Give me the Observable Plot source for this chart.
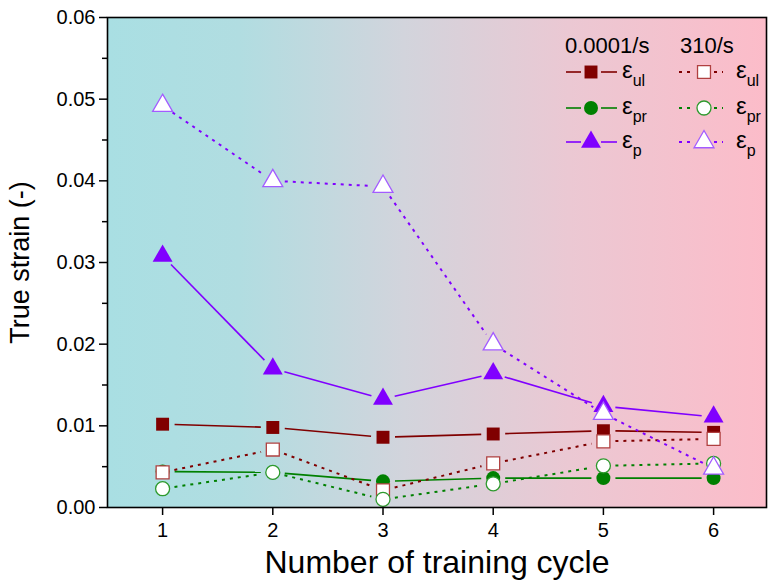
<!DOCTYPE html>
<html>
<head>
<meta charset="utf-8">
<script src="https://cdn.jsdelivr.net/npm/d3@7"></script>
<script src="https://cdn.jsdelivr.net/npm/@observablehq/plot@0.6"></script>
<style>
  html, body { margin: 0; padding: 0; background: #ffffff; }
  #chart svg { display: block; font-family: "Liberation Sans", Arial, sans-serif; }
</style>
</head>
<body>
<div id="chart"></div>
<script>
// ---- Data ----
const cycles = [1, 2, 3, 4, 5, 6];
const ulSlow = [0.0102, 0.0098, 0.0086, 0.0090, 0.0094, 0.0092]; // 0.0001/s, ε_ul
const prSlow = [0.0044, 0.0043, 0.0032, 0.0036, 0.0036, 0.0036]; // 0.0001/s, ε_pr
const pSlow  = [0.0308, 0.0170, 0.0133, 0.0164, 0.0124, 0.0111]; // 0.0001/s, ε_p
const ulFast = [0.0043, 0.0071, 0.0021, 0.0054, 0.0081, 0.0084]; // 310/s, ε_ul
const prFast = [0.0023, 0.0043, 0.0010, 0.0029, 0.0051, 0.0054]; // 310/s, ε_pr
const pFast  = [0.0492, 0.0400, 0.0393, 0.0200, 0.0115, 0.0048]; // 310/s, ε_p
const rates = ["0.0001/s", "310/s"];
const yTicks = [0, 0.01, 0.02, 0.03, 0.04, 0.05, 0.06];
const yMinorTicks = [0.005, 0.015, 0.025, 0.035, 0.045, 0.055];
const xLabel = "Number of training cycle";
const yLabel = "True strain (-)";

// ---- series definitions (style) ----
const series = [
  {sub: "ul", rate: rates[0], values: ulSlow, color: "#800000", symbol: "square",   filled: true},
  {sub: "pr", rate: rates[0], values: prSlow, color: "#008000", symbol: "circle",   filled: true},
  {sub: "p",  rate: rates[0], values: pSlow,  color: "#8000ff", symbol: "triangle", filled: true},
  {sub: "ul", rate: rates[1], values: ulFast, color: "#800000", symbol: "square",   filled: false, edge: "#b04040"},
  {sub: "pr", rate: rates[1], values: prFast, color: "#008000", symbol: "circle",   filled: false, edge: "#2e9a2e"},
  {sub: "p",  rate: rates[1], values: pFast,  color: "#8000ff", symbol: "triangle", filled: false, edge: "#a35cff"}
];
const symR = {square: 7.3, triangle: 7.4, circle: 7};

const marks = [];
marks.push(Plot.frame({fill: "url(#bgGrad)", stroke: "none"}));

// connecting segments with gaps around markers
for (const s of series) {
  const segs = cycles.slice(0, -1).map((c, i) => ({x1: c, y1: s.values[i], x2: cycles[i + 1], y2: s.values[i + 1]}));
  marks.push(Plot.arrow(segs, {
    x1: "x1", y1: "y1", x2: "x2", y2: "y2",
    stroke: s.color, strokeWidth: s.filled ? 1.6 : 2,
    strokeDasharray: s.filled ? null : "3,5",
    strokeLinecap: "butt",
    headLength: 0, insetStart: 12, insetEnd: 12
  }));
}
// markers
for (const s of series) {
  const pts = cycles.map((c, i) => ({x: c, y: s.values[i]}));
  marks.push(Plot.dot(pts, {
    x: "x", y: "y", symbol: s.symbol, r: symR[s.symbol],
    fill: s.filled ? s.color : "white",
    stroke: s.filled ? "none" : s.edge,
    strokeWidth: 1.3
  }));
}

// axes
marks.push(Plot.axisY(yTicks, {tickSize: 8, tickPadding: 4, fontSize: 20, tickFormat: d => d.toFixed(2), label: null, stroke: "black", strokeWidth: 1.5}));
marks.push(Plot.axisY(yMinorTicks, {tickSize: 5, text: null, label: null, stroke: "black", strokeWidth: 1.5}));
marks.push(Plot.axisX(cycles, {tickSize: 8, tickPadding: 7, fontSize: 20, tickFormat: d => String(d), label: null, stroke: "black", strokeWidth: 1.5}));
marks.push(Plot.frame({stroke: "black", strokeWidth: 1.6}));
marks.push(Plot.text([xLabel], {text: d => d, frameAnchor: "bottom", lineAnchor: "middle", textAnchor: "middle", dy: 55, fontSize: 32, fill: "black"}));
marks.push(Plot.text([yLabel], {text: d => d, frameAnchor: "left", lineAnchor: "middle", textAnchor: "middle", dx: -87, rotate: -90, fontSize: 27, fill: "black"}));

const svg = Plot.plot({
  width: 771,
  height: 583,
  marginLeft: 107,
  marginRight: 5,
  marginTop: 17,
  marginBottom: 76,
  style: {fontFamily: "Liberation Sans, Arial, sans-serif", background: "white", color: "black"},
  x: {domain: [0.5, 6.48], axis: null},
  y: {domain: [0, 0.06], axis: null},
  marks
});

// gradient background
const sel = d3.select(svg);
const defs = sel.insert("defs", ":first-child");
const grad = defs.append("linearGradient").attr("id", "bgGrad").attr("x1", "0").attr("x2", "1").attr("y1", "0").attr("y2", "0");
grad.append("stop").attr("offset", "0").attr("stop-color", "#a9dfe3");
grad.append("stop").attr("offset", "0.2").attr("stop-color", "#b1dde1");
grad.append("stop").attr("offset", "0.45").attr("stop-color", "#d2d4dc");
grad.append("stop").attr("offset", "0.7").attr("stop-color", "#ebc8d3");
grad.append("stop").attr("offset", "1").attr("stop-color", "#fcbcc9");

// legend (layout only)
const leg = sel.append("g").attr("font-family", "Liberation Sans, Arial, sans-serif").attr("text-anchor", "start");
const cols = [
  {rate: rates[0], headX: 565, lineA: 566, lineB: 617, mx: 591, tx: 622},
  {rate: rates[1], headX: 680, lineA: 679, lineB: 723, mx: 704, tx: 736}
];
const rowsY = [72, 108, 142];
const sym = {square: d3.symbolSquare, circle: d3.symbolCircle, triangle: d3.symbolTriangle};
for (const c of cols) {
  leg.append("text").attr("x", c.headX).attr("y", 53).attr("font-size", 22).attr("fill", "black").text(c.rate);
  series.filter(s => s.rate === c.rate).forEach((s, i) => {
    const y = rowsY[i];
    const gap = 10;
    for (const [a, b] of [[c.lineA, c.mx - gap], [c.mx + gap, c.lineB]]) {
      leg.append("line").attr("x1", a).attr("x2", b).attr("y1", y).attr("y2", y)
        .attr("stroke", s.color).attr("stroke-width", s.filled ? 1.6 : 2)
        .attr("stroke-dasharray", s.filled ? null : "3,5");
    }
    const r = symR[s.symbol];
    leg.append("path").attr("transform", `translate(${c.mx},${y})`)
      .attr("d", d3.symbol(sym[s.symbol], Math.PI * r * r)())
      .attr("fill", s.filled ? s.color : "white")
      .attr("stroke", s.filled ? "none" : s.edge).attr("stroke-width", 1.3);
    const t = leg.append("text").attr("x", c.tx).attr("y", y + 6).attr("font-size", 24).attr("fill", "black");
    t.append("tspan").text("ε");
    t.append("tspan").attr("dy", 8).attr("font-size", 16).text(s.sub);
  });
}
document.getElementById("chart").appendChild(svg);
</script>
</body>
</html>
